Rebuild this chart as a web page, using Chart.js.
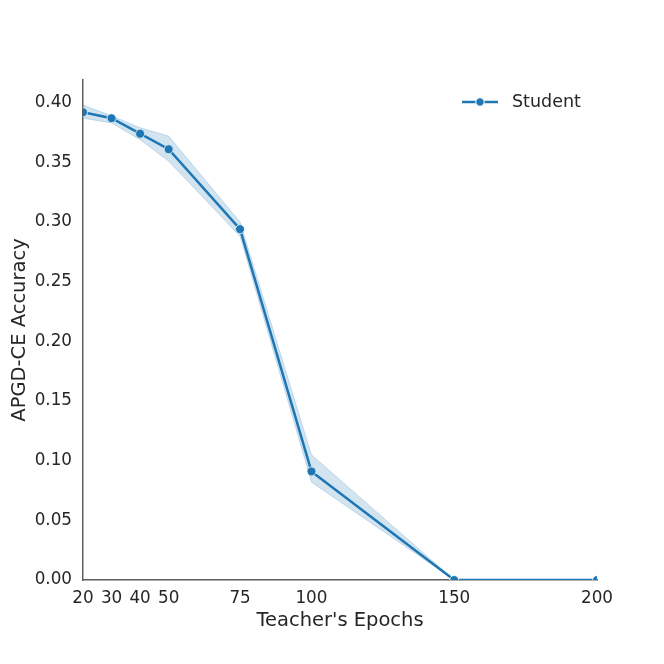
<!DOCTYPE html>
<html>
<head>
<meta charset="utf-8">
<script src="https://cdn.jsdelivr.net/npm/chart.js"></script>
<style>
  html, body { margin: 0; padding: 0; background: #fff; }
  #wrap { width: 664px; height: 664px; }
</style>
</head>
<body>
<div id="wrap"><canvas id="chart" width="664" height="664"></canvas></div>
<script>
// Data
const epochs = [20, 30, 40, 50, 75, 100, 150, 200];
const accMean = [0.392, 0.387, 0.374, 0.361, 0.294, 0.091, 0.0, 0.0];
const accUpper = [0.398, 0.389, 0.379, 0.372, 0.300, 0.105, 0.0, 0.0];
const accLower = [0.387, 0.383, 0.369, 0.351, 0.288, 0.082, 0.0, 0.0];
const xTicks = [20, 30, 40, 50, 75, 100, 150, 200];
const yTicks = [0, 0.05, 0.10, 0.15, 0.20, 0.25, 0.30, 0.35, 0.40];

const blue = '#1f77b4';
const textColor = '#262626';
const spineColor = '#5f5f5f';
const font = 'DejaVu Sans';

const toXY = arr => arr.map((v, i) => ({ x: epochs[i], y: v }));

// legend: line with dot, drawn top-right inside the plot
const legendPlugin = {
    id: 'lineLegend',
    afterDraw(chart) {
        const { ctx, chartArea } = chart;
        const x0 = chartArea.right - 135;
        const y = chartArea.top + 22;
        ctx.save();
        ctx.strokeStyle = blue;
        ctx.lineWidth = 2.5;
        ctx.beginPath();
        ctx.moveTo(x0, y);
        ctx.lineTo(x0 + 36, y);
        ctx.stroke();
        ctx.fillStyle = blue;
        ctx.strokeStyle = '#fff';
        ctx.lineWidth = 1;
        ctx.beginPath();
        ctx.arc(x0 + 18, y, 4.2, 0, Math.PI * 2);
        ctx.fill();
        ctx.stroke();
        ctx.fillStyle = textColor;
        ctx.font = '17.5px "' + font + '"';
        ctx.textBaseline = 'middle';
        ctx.fillText('Student', x0 + 50, y);
        ctx.restore();
    }
};

new Chart(document.getElementById('chart'), {
    type: 'line',
    data: {
        datasets: [
            {
                label: 'lower',
                data: toXY(accLower),
                borderColor: 'rgba(31,119,180,0.2)',
                borderWidth: 1,
                pointRadius: 0,
                fill: false,
                clip: 0
            },
            {
                label: 'upper',
                data: toXY(accUpper),
                borderColor: 'rgba(31,119,180,0.2)',
                backgroundColor: 'rgba(31,119,180,0.2)',
                borderWidth: 1,
                pointRadius: 0,
                fill: '-1',
                clip: 0
            },
            {
                label: 'Student',
                data: toXY(accMean),
                borderColor: blue,
                borderWidth: 2.5,
                pointRadius: 4.5,
                pointBackgroundColor: blue,
                pointBorderColor: '#fff',
                pointBorderWidth: 1,
                fill: false,
                clip: 0
            }
        ]
    },
    options: {
        responsive: false,
        animation: false,
        layout: { padding: { top: 80, right: 67, left: 0, bottom: 0 } },
        plugins: {
            legend: { display: false },
            tooltip: { enabled: false }
        },
        scales: {
            x: {
                type: 'linear',
                min: 20,
                max: 200,
                grid: { display: false, drawTicks: false },
                border: { display: true, color: spineColor, width: 1.5 },
                afterBuildTicks: axis => { axis.ticks = xTicks.map(v => ({ value: v })); },
                afterFit: axis => { axis.height = 84; },
                ticks: {
                    autoSkip: false,
                    maxRotation: 0,
                    padding: 9,
                    color: textColor,
                    font: { family: font, size: 16.8 }
                },
                title: {
                    display: true,
                    text: "Teacher's Epochs",
                    color: textColor,
                    font: { family: font, size: 19.5 },
                    padding: { top: 0, bottom: 31 }
                }
            },
            y: {
                min: 0,
                max: 0.419,
                grid: { display: false, drawTicks: false },
                border: { display: true, color: spineColor, width: 1.5 },
                afterBuildTicks: axis => { axis.ticks = yTicks.map(v => ({ value: v })); },
                afterFit: axis => { axis.width = 83; },
                ticks: {
                    padding: 11,
                    color: textColor,
                    font: { family: font, size: 16.8 },
                    callback: v => v.toFixed(2)
                },
                title: {
                    display: true,
                    text: 'APGD-CE Accuracy',
                    color: textColor,
                    font: { family: font, size: 19.5 },
                    padding: { top: 8, bottom: 0 }
                }
            }
        }
    },
    plugins: [legendPlugin]
});
</script>
</body>
</html>
